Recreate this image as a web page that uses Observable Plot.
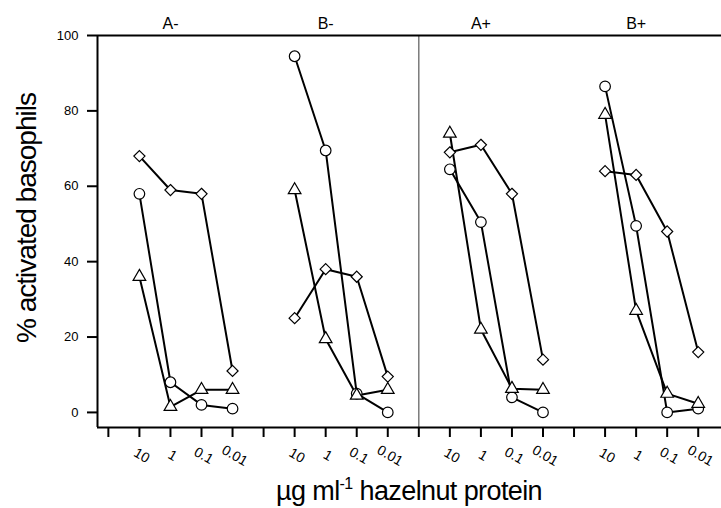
<!DOCTYPE html>
<html>
<head>
<meta charset="utf-8">
<script src="https://cdn.jsdelivr.net/npm/d3@7"></script>
<script src="https://cdn.jsdelivr.net/npm/@observablehq/plot@0.6"></script>
<style>
  html, body { margin: 0; padding: 0; background: white; }
</style>
</head>
<body>
<div id="chart"></div>
<script>
const groups = ["A-", "B-", "A+", "B+"];
const doseLabels = ["10", "1", "0.1", "0.01"];
const diamondValues = [[68, 59, 58, 11], [25, 38, 36, 9.5], [69, 71, 58, 14], [64, 63, 48, 16]];
const circleValues = [[58, 8, 2, 1], [94.5, 69.5, 5, 0], [64.5, 50.5, 4, 0], [86.5, 49.5, 0, 1]];
const triangleValues = [[36, 1.5, 6, 6], [59, 19.5, 4.5, 6], [74, 22, 6.3, 6], [79, 27, 5, 2.3]];
const yTicks = [0, 20, 40, 60, 80, 100];
const yLabel = "% activated basophils";
const xLabelParts = ["µg ml", "-1", " hazelnut protein"];

const seriesList = [
  {name: "diamond", symbol: "diamond2", values: diamondValues, r: 5},
  {name: "circle", symbol: "circle", values: circleValues, r: 5.3},
  {name: "triangle", symbol: "triangle", values: triangleValues, r: 4.7}
];

const rows = [];
for (const s of seriesList) {
  groups.forEach((g, gi) => {
    s.values[gi].forEach((v, di) => {
      rows.push({series: s.name, group: g, dose: doseLabels[di], x: gi * 5 + di + 1, y: v});
    });
  });
}

const tickPos = d3.range(20);
const tickText = tickPos.map(i => i % 5 === 0 ? "" : doseLabels[i % 5 - 1]);
const groupPos = groups.map((g, gi) => ({label: g, x: gi * 5 + 2}));

const font = "'Liberation Sans', Arial, Helvetica, sans-serif";

const svg = Plot.plot({
  width: 721,
  height: 508,
  marginLeft: 97,
  marginRight: 0,
  marginTop: 35,
  marginBottom: 81,
  style: {fontFamily: font, background: "white", color: "black"},
  x: {domain: [-0.35, 19.75], axis: null},
  y: {domain: [-4, 100], axis: null},
  marks: [
    Plot.ruleX([10], {stroke: "#666", strokeWidth: 1.3}),
    Plot.ruleY([100], {stroke: "black", strokeWidth: 2}),
    Plot.ruleY([-4], {stroke: "black", strokeWidth: 2}),
    Plot.ruleX([-0.35], {stroke: "black", strokeWidth: 2}),
    Plot.axisY({ticks: yTicks, tickSize: 10, tickPadding: 9, strokeWidth: 2, fontSize: 13, label: null}),
    Plot.axisX({ticks: tickPos, tickSize: 10, tickFormat: () => "", strokeWidth: 2, label: null}),
    Plot.text(tickPos, {x: d => d, text: (d, i) => tickText[i], frameAnchor: "bottom", dy: 32, rotate: 30, fontSize: 14, fill: "black"}),
    Plot.text(groupPos, {x: "x", y: 100, text: "label", dy: -7, lineAnchor: "bottom", fontSize: 16, fill: "black"}),
    Plot.line(rows, {x: "x", y: "y", z: d => d.series + d.group, stroke: "black", strokeWidth: 2}),
    ...seriesList.map(s => Plot.dot(rows.filter(d => d.series === s.name), {
      x: "x", y: "y", symbol: s.symbol, r: s.r, fill: "white", stroke: "black", strokeWidth: 1.2
    }))
  ]
});

const sel = d3.select(svg);
sel.append("text")
  .attr("transform", "translate(36,218) rotate(-90)")
  .attr("text-anchor", "middle")
  .attr("font-family", font)
  .attr("font-size", 28)
  .attr("letter-spacing", "-1px")
  .attr("fill", "black")
  .text(yLabel);

const xl = sel.append("text")
  .attr("x", 409)
  .attr("y", 500)
  .attr("text-anchor", "middle")
  .attr("font-family", font)
  .attr("font-size", 27)
  .attr("letter-spacing", "-0.6px")
  .attr("fill", "black");
xl.append("tspan").text(xLabelParts[0]);
xl.append("tspan").attr("font-size", 16).attr("dy", -11).text(xLabelParts[1]);
xl.append("tspan").attr("dy", 11).text(xLabelParts[2]);

document.getElementById("chart").appendChild(svg);
</script>
</body>
</html>
